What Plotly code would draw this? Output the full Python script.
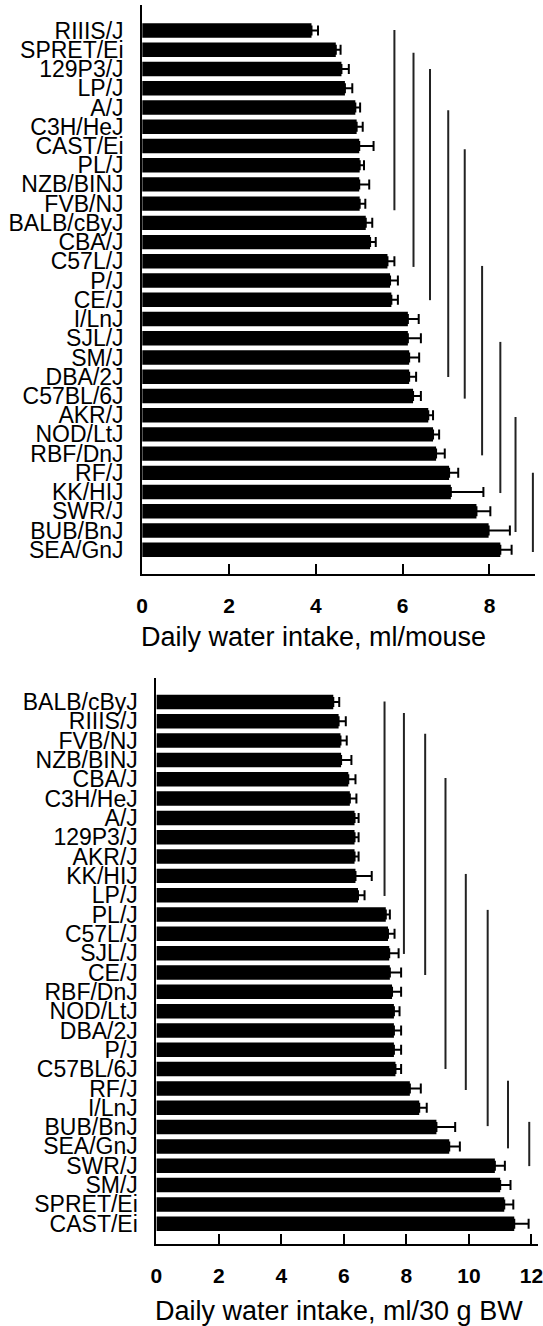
import plotly.graph_objects as go

# Panel A : eau bue par souris (ml/mouse)
top_strains = ["RIIIS/J", "SPRET/Ei", "129P3/J", "LP/J", "A/J", "C3H/HeJ", "CAST/Ei",
               "PL/J", "NZB/BINJ", "FVB/NJ", "BALB/cByJ", "CBA/J", "C57L/J", "P/J",
               "CE/J", "I/LnJ", "SJL/J", "SM/J", "DBA/2J", "C57BL/6J", "AKR/J",
               "NOD/LtJ", "RBF/DnJ", "RF/J", "KK/HIJ", "SWR/J", "BUB/BnJ", "SEA/GnJ"]
top_intake = [3.90, 4.46, 4.59, 4.67, 4.91, 4.94, 5.00, 5.01, 5.00, 5.01, 5.15, 5.25,
              5.65, 5.71, 5.74, 6.12, 6.12, 6.15, 6.15, 6.24, 6.59, 6.70, 6.77, 7.07,
              7.11, 7.70, 7.98, 8.25]
top_sem = [0.15, 0.11, 0.17, 0.17, 0.11, 0.14, 0.33, 0.10, 0.23, 0.13, 0.15, 0.13,
           0.16, 0.18, 0.15, 0.25, 0.30, 0.23, 0.16, 0.18, 0.11, 0.14, 0.20, 0.21,
           0.75, 0.32, 0.49, 0.26]
# groupes non significativement différents (x, rang début, rang fin)
top_group_x = [5.81, 6.25, 6.63, 7.05, 7.43, 7.83, 8.25, 8.60, 9.00]
top_group_start = [-0.03, 1.15, 2.0, 4.14, 6.17, 12.24, 16.19, 20.09, 23.0]
top_group_end = [9.34, 12.29, 14.02, 18.01, 19.14, 22.09, 24.05, 26.08, 27.12]

# Panel B : eau bue par 30 g de poids corporel
bot_strains = ["BALB/cByJ", "RIIIS/J", "FVB/NJ", "NZB/BINJ", "CBA/J", "C3H/HeJ", "A/J",
               "129P3/J", "AKR/J", "KK/HIJ", "LP/J", "PL/J", "C57L/J", "SJL/J", "CE/J",
               "RBF/DnJ", "NOD/LtJ", "DBA/2J", "P/J", "C57BL/6J", "RF/J", "I/LnJ",
               "BUB/BnJ", "SEA/GnJ", "SWR/J", "SM/J", "SPRET/Ei", "CAST/Ei"]
bot_intake = [5.66, 5.83, 5.89, 5.91, 6.14, 6.19, 6.34, 6.34, 6.34, 6.37, 6.45, 7.34,
              7.41, 7.45, 7.47, 7.54, 7.60, 7.60, 7.60, 7.65, 8.11, 8.41, 8.96, 9.37,
              10.83, 11.00, 11.13, 11.45]
bot_sem = [0.19, 0.23, 0.20, 0.33, 0.23, 0.21, 0.13, 0.13, 0.13, 0.52, 0.21, 0.13,
           0.21, 0.30, 0.36, 0.29, 0.18, 0.23, 0.23, 0.18, 0.35, 0.24, 0.60, 0.34,
           0.32, 0.33, 0.29, 0.46]
bot_group_x = [7.30, 7.92, 8.60, 9.25, 9.90, 10.60, 11.25, 11.93]
bot_group_start = [-0.03, 0.57, 1.65, 3.94, 8.9, 10.76, 19.6, 21.73]
bot_group_end = [10.04, 13.04, 14.13, 19.0, 20.08, 21.95, 23.1, 24.02]

W, H = 543, 1326
FONT = "Liberation Sans, Arial, sans-serif"

fig = go.Figure()


def add_panel(fig, strains, intake, sem, gx, gs, ge, xa, ya):
    rows = list(range(len(strains)))
    fig.add_trace(go.Bar(
        x=intake, y=rows, orientation='h',
        marker=dict(color='black', line=dict(width=0)),
        error_x=dict(type='data', array=sem, arrayminus=[0] * len(sem),
                     symmetric=False, color='black', thickness=2, width=5),
        xaxis=xa, yaxis=ya, showlegend=False, hoverinfo='x+y'
    ))
    for x, s, e in zip(gx, gs, ge):
        fig.add_trace(go.Scatter(
            x=[x, x], y=[s, e], mode='lines',
            line=dict(color='#222222', width=2),
            xaxis=xa, yaxis=ya, showlegend=False, hoverinfo='skip',
            cliponaxis=False
        ))


add_panel(fig, top_strains, top_intake, top_sem,
          top_group_x, top_group_start, top_group_end, 'x', 'y')
add_panel(fig, bot_strains, bot_intake, bot_sem,
          bot_group_x, bot_group_start, bot_group_end, 'x2', 'y2')

xcommon = dict(showgrid=False, zeroline=False, showline=True, linecolor='black',
               linewidth=2, ticks='inside', ticklen=10, tickwidth=2, tickcolor='black',
               tickfont=dict(family=FONT, size=21, color='black', weight='bold'),
               ticklabelstandoff=12, ticklabeloverflow='allow', dtick=2, tick0=0)
ycommon = dict(showgrid=False, zeroline=False, showline=True, linecolor='black',
               linewidth=2, ticks='', ticklabelstandoff=12,
               tickfont=dict(family=FONT, size=23, color='black'))

fig.update_layout(
    width=W, height=H,
    margin=dict(l=0, r=0, t=0, b=0),
    paper_bgcolor='white', plot_bgcolor='white',
    bargap=0.25,
    xaxis=dict(xcommon, domain=[139 / W, 540 / W], range=[0, 9.05], anchor='y'),
    yaxis=dict(ycommon, domain=[1 - 574 / H, 1 - 5 / H], range=[28.26, -1.33],
               tickvals=list(range(len(top_strains))), ticktext=top_strains, anchor='x'),
    xaxis2=dict(xcommon, domain=[153.5 / W, 1.0], range=[0, 12.21], anchor='y2'),
    yaxis2=dict(ycommon, domain=[1 - 1244 / H, 1 - 678 / H], range=[28.05, -1.24],
                tickvals=list(range(len(bot_strains))), ticktext=bot_strains, anchor='x2'),
    annotations=[
        dict(text="Daily water intake, ml/mouse", xref='paper', yref='paper',
             x=314 / W, y=1 - 637 / H, xanchor='center', yanchor='middle',
             showarrow=False, font=dict(family=FONT, size=27, color='black')),
        dict(text="Daily water intake, ml/30 g BW", xref='paper', yref='paper',
             x=340 / W, y=1 - 1311 / H, xanchor='center', yanchor='middle',
             showarrow=False, font=dict(family=FONT, size=27, color='black')),
    ]
)

# pas de marge autour du graphique dans la page
fig.write_html("out.html", config={'displayModeBar': False},
               post_script="document.body.style.margin='0';"
                           "document.body.style.overflow='hidden';")
